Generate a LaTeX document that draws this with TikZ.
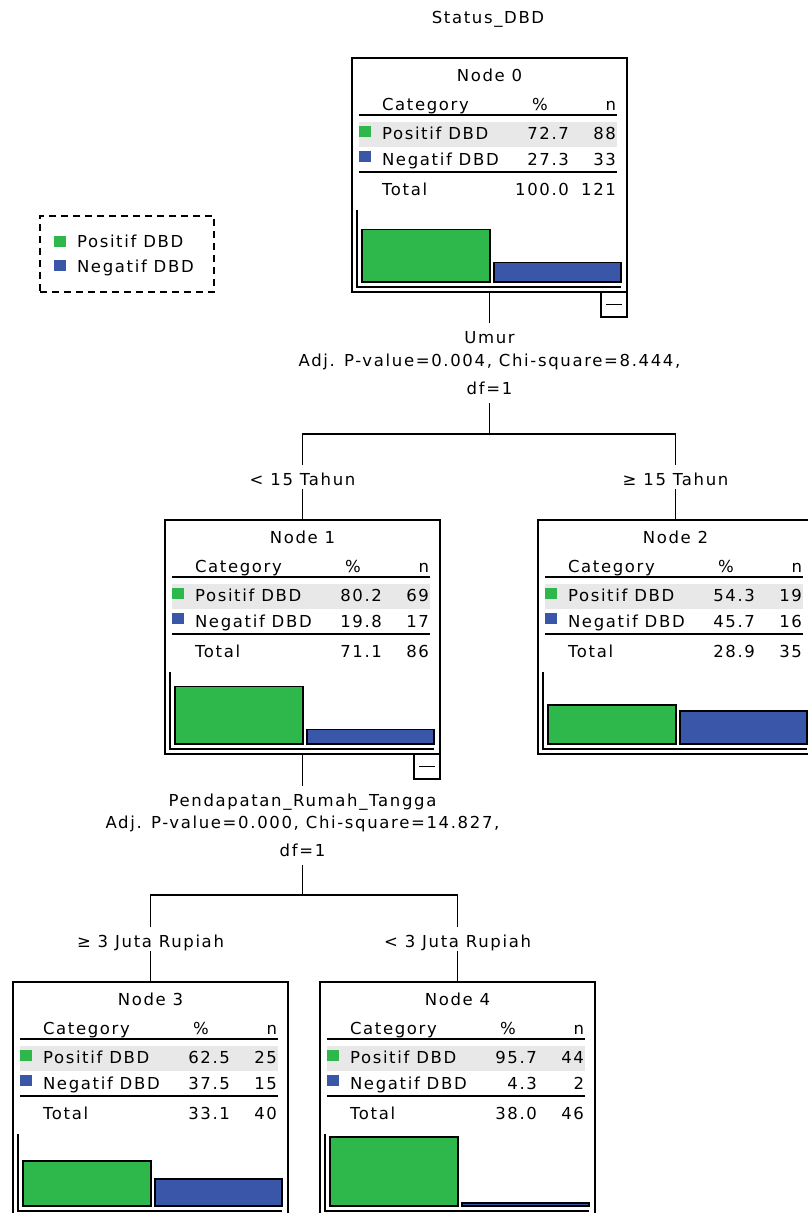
\documentclass[tikz,border=0pt]{standalone}
\usepackage{fontspec}
\newfontfamily\spssfont{DejaVu Sans}[LetterSpace=10]
\definecolor{pgreen}{RGB}{46,184,76}
\definecolor{pblue}{RGB}{58,86,168}
\definecolor{pshade}{RGB}{232,232,232}
\tikzset{
  txt/.style={font=\spssfont\fontsize{16.5}{19}\selectfont, inner sep=0pt, outer sep=0pt, text height=11pt, text depth=3.5pt},
  nodebox/.style={draw, line width=1.5pt, anchor=north west, minimum width=275pt, minimum height=234pt, inner sep=0pt, outer sep=0pt},
  rule/.style={line width=1.3pt},
  barbox/.style={draw, line width=1.3pt},
  conn/.style={line width=1.3pt},
  collapsebox/.style={draw, line width=1.3pt, minimum width=26pt, minimum height=25pt, inner sep=0pt, outer sep=0pt},
  splitlab/.style={txt, anchor=base},
  childlab/.style={txt, anchor=base, text height=20pt, text depth=4pt},
}
\newcommand\chaidbox[9]{%
  \begin{scope}[shift={(#1,#2)}]
    \node[nodebox] (n#3) at (0,0) {};
    \fill[pshade] (7,64) rectangle (265,89);
    \draw[rule] (7,57) -- (265,57);
    \draw[rule] (7,114) -- (265,114);
    \fill[pgreen] (7,68) rectangle (19,79);
    \fill[pblue] (7,93) rectangle (19,104);
    \node[txt,anchor=base] (n#3-title) at (137.5,23.5) {Node #3};
    \node[txt,anchor=base west] (n#3-cat) at (30,52.5) {Category};
    \node[txt,anchor=base] (n#3-pcth) at (188,52.5) {\%};
    \node[txt,anchor=base east] (n#3-nh) at (264,52.5) {n};
    \node[txt,anchor=base west] (n#3-c1) at (30,81.5) {Positif DBD};
    \node[txt,anchor=base east] (n#3-p1) at (217,81.5) {#4};
    \node[txt,anchor=base east] (n#3-n1) at (264,81.5) {#5};
    \node[txt,anchor=base west] (n#3-c2) at (30,107) {Negatif DBD};
    \node[txt,anchor=base east] (n#3-p2) at (217,107) {#6};
    \node[txt,anchor=base east] (n#3-n2) at (264,107) {#7};
    \node[txt,anchor=base west] (n#3-ct) at (30,137.5) {Total};
    \node[txt,anchor=base east] (n#3-pt) at (217,137.5) {#8};
    \node[txt,anchor=base east] (n#3-nt) at (264,137.5) {#9};
    \draw[rule] (5,152) -- (5,229) -- (269,229);
    \draw[barbox,fill=pgreen] (10,224) rectangle (138,{224-0.72*#4});
    \draw[barbox,fill=pblue] (142,224) rectangle (269,{224-0.72*#6});
  \end{scope}}
\begin{document}
\begin{tikzpicture}[x=1pt,y=-1pt]
  \useasboundingbox (0,0) rectangle (807,1213);
  \fill[white] (0,0) rectangle (807,1213);

  \node[txt,anchor=base] (title) at (488,23) {Status\_DBD};

  % legend
  \node[draw, line width=1.3pt, dash pattern=on 7pt off 5pt, anchor=north west, minimum width=174pt, minimum height=76pt, inner sep=0pt, outer sep=0pt] (legend) at (40,216) {};
  \fill[pgreen] (54,236) rectangle (66,247);
  \fill[pblue] (54,260) rectangle (66,271);
  \node[txt,anchor=base west] (leg1) at (77,247) {Positif DBD};
  \node[txt,anchor=base west] (leg2) at (77,272) {Negatif DBD};

  % tree nodes
  \chaidbox{352}{58}{0}{72.7}{88}{27.3}{33}{100.0}{121}
  \chaidbox{165}{520}{1}{80.2}{69}{19.8}{17}{71.1}{86}
  \chaidbox{538}{520}{2}{54.3}{19}{45.7}{16}{28.9}{35}
  \chaidbox{13}{982}{3}{62.5}{25}{37.5}{15}{33.1}{40}
  \chaidbox{320}{982}{4}{95.7}{44}{4.3}{2}{38.0}{46}

  % collapse markers
  \node[collapsebox, anchor=north east] (x0) at (n0.south east) {};
  \draw[rule] ([xshift=-8pt]x0.center) -- ([xshift=8pt]x0.center);
  \node[collapsebox, anchor=north east] (x1) at (n1.south east) {};
  \draw[rule] ([xshift=-8pt]x1.center) -- ([xshift=8pt]x1.center);

  % split of node 0
  \node[splitlab, text height=20pt] (s0a) at (489.5,343) {Umur};
  \node[splitlab] (s0b) at (489.5,366) {Adj. P-value=0.004, Chi-square=8.444,};
  \node[splitlab, text depth=9pt] (s0c) at (489.5,394) {df=1};
  \coordinate (j0) at (489.5,434);
  \node[childlab] (l1) at (302.5,485) {< 15 Tahun};
  \node[childlab] (l2) at (675.5,485) {≥ 15 Tahun};
  \draw[conn] (n0.south) -- (s0a.north);
  \draw[conn] (s0c.south) -- (j0);
  \draw[conn] (l1.north) |- (j0) -| (l2.north);
  \draw[conn] (l1.south) -- (n1.north);
  \draw[conn] (l2.south) -- (n2.north);

  % split of node 1
  \node[splitlab, text height=20pt] (s1a) at (302.5,806) {Pendapatan\_Rumah\_Tangga};
  \node[splitlab] (s1b) at (302.5,828) {Adj. P-value=0.000, Chi-square=14.827,};
  \node[splitlab, text depth=9pt] (s1c) at (302.5,856) {df=1};
  \coordinate (j1) at (302.5,895);
  \node[childlab] (l3) at (150.5,947) {≥ 3 Juta Rupiah};
  \node[childlab] (l4) at (457.5,947) {< 3 Juta Rupiah};
  \draw[conn] (n1.south) -- (s1a.north);
  \draw[conn] (s1c.south) -- (j1);
  \draw[conn] (l3.north) |- (j1) -| (l4.north);
  \draw[conn] (l3.south) -- (n3.north);
  \draw[conn] (l4.south) -- (n4.north);
\end{tikzpicture}
\end{document}
